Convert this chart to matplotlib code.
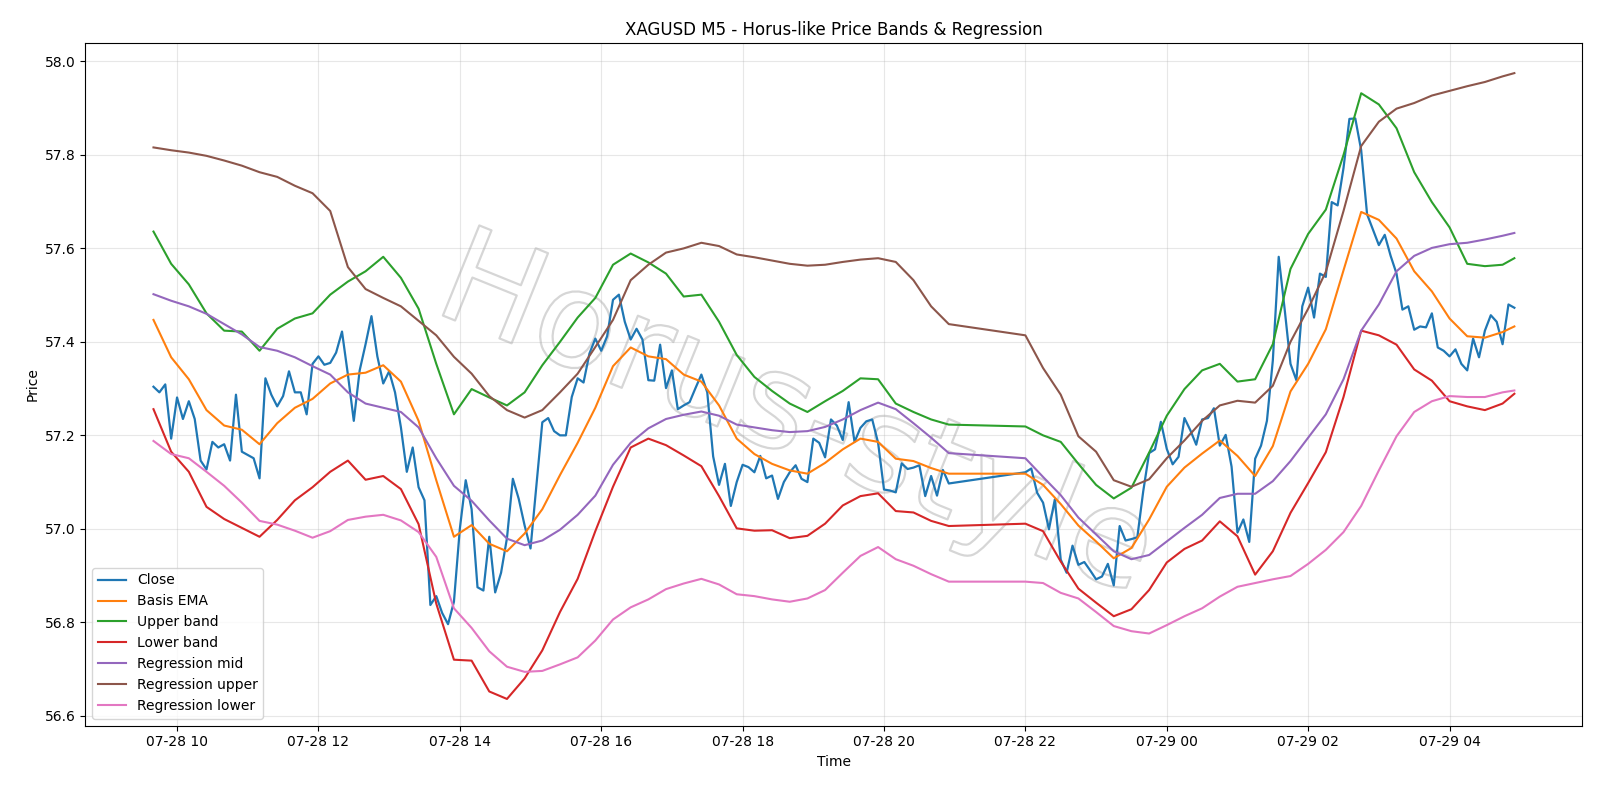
import numpy as np
import pandas as pd
import matplotlib
matplotlib.use("Agg")
import matplotlib.pyplot as plt
import matplotlib.dates as mdates
import matplotlib.patheffects as pe

# 5-minute bars, with the daily break between 20:55 and 22:00
seg1 = pd.date_range("2025-07-28 09:40", "2025-07-28 20:55", freq="5min")
seg2 = pd.date_range("2025-07-28 22:00", "2025-07-29 04:55", freq="5min")
times = seg1.append(seg2)

close = [
    57.304, 57.292, 57.309, 57.193, 57.281, 57.235, 57.273, 57.235, 57.146, 57.127,
    57.186, 57.174, 57.181, 57.146, 57.287, 57.165, 57.158, 57.151, 57.108, 57.322,
    57.287, 57.262, 57.284, 57.337, 57.292, 57.292, 57.245, 57.353, 57.369, 57.351,
    57.355, 57.377, 57.422, 57.330, 57.231, 57.339, 57.395, 57.455, 57.369, 57.311,
    57.337, 57.292, 57.217, 57.122, 57.174, 57.089, 57.061, 56.837, 56.856, 56.820,
    56.796, 56.844, 57.000, 57.104, 57.042, 56.875, 56.868, 56.983, 56.864, 56.906,
    56.980, 57.107, 57.064, 57.007, 56.958, 57.094, 57.228, 57.237, 57.209, 57.200,
    57.200, 57.282, 57.322, 57.313, 57.375, 57.407, 57.381, 57.412, 57.490, 57.501,
    57.443, 57.405, 57.428, 57.405, 57.318, 57.317, 57.394, 57.301, 57.339, 57.256,
    57.264, 57.271, 57.301, 57.330, 57.292, 57.155, 57.094, 57.139, 57.049, 57.100,
    57.137, 57.132, 57.121, 57.156, 57.108, 57.114, 57.064, 57.100, 57.121, 57.136,
    57.107, 57.100, 57.193, 57.184, 57.153, 57.234, 57.221, 57.190, 57.271, 57.186,
    57.216, 57.230, 57.234, 57.184, 57.084, 57.082, 57.078, 57.140, 57.128, 57.131,
    57.136, 57.070, 57.113, 57.071, 57.126, 57.097,
    # after the break
    57.121, 57.129, 57.077, 57.056, 56.999, 57.063, 56.934, 56.906, 56.964, 56.923,
    56.929, 56.911, 56.892, 56.898, 56.925, 56.879, 57.006, 56.975, 56.978, 56.982,
    57.080, 57.162, 57.170, 57.229, 57.171, 57.138, 57.154, 57.237, 57.211, 57.180,
    57.234, 57.237, 57.258, 57.178, 57.201, 57.133, 56.992, 57.020, 56.972, 57.150,
    57.178, 57.231, 57.360, 57.582, 57.471, 57.353, 57.318, 57.476, 57.516, 57.452,
    57.546, 57.539, 57.699, 57.692, 57.772, 57.877, 57.878, 57.810, 57.673, 57.640,
    57.607, 57.629, 57.584, 57.546, 57.469, 57.476, 57.426, 57.433, 57.431, 57.461,
    57.388, 57.381, 57.369, 57.384, 57.353, 57.339, 57.407, 57.367, 57.424, 57.457,
    57.443, 57.395, 57.480, 57.473,
]

# the smoother series are read every third bar (15 min) plus the last bar
idx = list(range(0, len(seg1), 3)) + [len(seg1) + i for i in range(0, len(seg2), 3)] + [len(times) - 1]
t_s = times[idx]

basis = [
    57.447, 57.367, 57.320, 57.254, 57.221, 57.212, 57.181, 57.226, 57.259, 57.278,
    57.311, 57.330, 57.334, 57.350, 57.315, 57.231, 57.104, 56.983, 57.008, 56.968,
    56.952, 56.990, 57.042, 57.115, 57.184, 57.259, 57.348, 57.388, 57.369, 57.363,
    57.330, 57.315, 57.264, 57.193, 57.160, 57.139, 57.125, 57.118, 57.141, 57.170,
    57.193, 57.186, 57.150, 57.145, 57.130, 57.118,
    57.118, 57.094, 57.053, 57.007, 56.973, 56.937, 56.959, 57.020, 57.090, 57.131,
    57.161, 57.189, 57.156, 57.113, 57.177, 57.294, 57.353, 57.427, 57.553, 57.678,
    57.661, 57.621, 57.551, 57.508, 57.450, 57.412, 57.409, 57.421, 57.433,
]
upper = [
    57.636, 57.567, 57.523, 57.461, 57.424, 57.422, 57.381, 57.428, 57.450, 57.461,
    57.501, 57.529, 57.551, 57.582, 57.537, 57.471, 57.353, 57.245, 57.299, 57.281,
    57.264, 57.292, 57.350, 57.400, 57.452, 57.494, 57.565, 57.589, 57.570, 57.546,
    57.497, 57.501, 57.443, 57.372, 57.325, 57.295, 57.268, 57.250, 57.273, 57.295,
    57.322, 57.320, 57.268, 57.250, 57.234, 57.223,
    57.219, 57.200, 57.186, 57.139, 57.094, 57.065, 57.088, 57.163, 57.242, 57.299,
    57.339, 57.353, 57.315, 57.320, 57.395, 57.556, 57.631, 57.683, 57.800, 57.932,
    57.908, 57.857, 57.763, 57.699, 57.645, 57.567, 57.562, 57.565, 57.579,
]
lower = [
    57.256, 57.165, 57.122, 57.047, 57.021, 57.002, 56.983, 57.019, 57.061, 57.089,
    57.122, 57.146, 57.105, 57.113, 57.085, 57.010, 56.840, 56.720, 56.718, 56.652,
    56.636, 56.680, 56.740, 56.822, 56.893, 56.995, 57.090, 57.174, 57.193, 57.179,
    57.157, 57.134, 57.070, 57.001, 56.996, 56.997, 56.980, 56.985, 57.011, 57.050,
    57.070, 57.076, 57.038, 57.035, 57.017, 57.006,
    57.011, 56.995, 56.930, 56.872, 56.842, 56.813, 56.828, 56.869, 56.928, 56.957,
    56.975, 57.016, 56.984, 56.902, 56.952, 57.034, 57.098, 57.164, 57.282, 57.424,
    57.414, 57.394, 57.341, 57.317, 57.273, 57.262, 57.254, 57.268, 57.289,
]
reg_mid = [
    57.502, 57.488, 57.476, 57.460, 57.438, 57.416, 57.389, 57.381, 57.367, 57.348,
    57.330, 57.292, 57.268, 57.259, 57.250, 57.217, 57.151, 57.092, 57.060, 57.018,
    56.979, 56.965, 56.975, 56.998, 57.030, 57.071, 57.137, 57.184, 57.215, 57.235,
    57.244, 57.251, 57.242, 57.223, 57.217, 57.211, 57.207, 57.209, 57.218, 57.234,
    57.254, 57.270, 57.256, 57.226, 57.195, 57.162,
    57.151, 57.111, 57.072, 57.024, 56.988, 56.952, 56.935, 56.944, 56.973, 57.002,
    57.030, 57.066, 57.075, 57.075, 57.102, 57.145, 57.195, 57.245, 57.320, 57.424,
    57.480, 57.551, 57.584, 57.601, 57.609, 57.612, 57.619, 57.627, 57.633,
]
reg_upper = [
    57.816, 57.810, 57.805, 57.798, 57.788, 57.777, 57.763, 57.753, 57.734, 57.718,
    57.680, 57.560, 57.513, 57.494, 57.476, 57.445, 57.414, 57.368, 57.332, 57.284,
    57.254, 57.238, 57.254, 57.292, 57.332, 57.389, 57.447, 57.532, 57.565, 57.591,
    57.600, 57.612, 57.605, 57.587, 57.581, 57.574, 57.567, 57.563, 57.565, 57.571,
    57.576, 57.579, 57.571, 57.532, 57.476, 57.438,
    57.414, 57.344, 57.287, 57.198, 57.165, 57.104, 57.090, 57.106, 57.151, 57.189,
    57.231, 57.264, 57.274, 57.270, 57.306, 57.400, 57.471, 57.550, 57.680, 57.819,
    57.871, 57.899, 57.911, 57.927, 57.937, 57.947, 57.956, 57.968, 57.975,
]
reg_lower = [
    57.188, 57.160, 57.151, 57.122, 57.092, 57.056, 57.017, 57.009, 56.996, 56.981,
    56.995, 57.019, 57.026, 57.030, 57.018, 56.993, 56.940, 56.830, 56.788, 56.738,
    56.705, 56.694, 56.696, 56.710, 56.725, 56.761, 56.806, 56.832, 56.849, 56.871,
    56.883, 56.893, 56.881, 56.860, 56.856, 56.849, 56.844, 56.851, 56.869, 56.906,
    56.942, 56.961, 56.935, 56.921, 56.903, 56.887,
    56.887, 56.884, 56.863, 56.851, 56.822, 56.792, 56.781, 56.776, 56.794, 56.813,
    56.830, 56.855, 56.876, 56.884, 56.892, 56.899, 56.925, 56.955, 56.993, 57.049,
    57.125, 57.198, 57.250, 57.273, 57.284, 57.282, 57.282, 57.292, 57.296,
]

watermark = "Horus-style"

fig, ax = plt.subplots(figsize=(16, 8), dpi=100)
fig.subplots_adjust(left=0.0534, right=0.989, top=0.946, bottom=0.093)

# hollow light-grey watermark behind the lines
ax.text(0.475, 0.45, watermark, transform=ax.transAxes, fontsize=96,
        color=(1, 1, 1, 0), rotation=-22, ha="center", va="center", zorder=0,
        path_effects=[pe.withStroke(linewidth=1.6, foreground=(0.6, 0.6, 0.6, 0.4))])

ax.plot(times, close, label="Close", linewidth=1.6)
ax.plot(t_s, basis, label="Basis EMA", linewidth=1.5)
ax.plot(t_s, upper, label="Upper band", linewidth=1.5)
ax.plot(t_s, lower, label="Lower band", linewidth=1.5)
ax.plot(t_s, reg_mid, label="Regression mid", linewidth=1.5)
ax.plot(t_s, reg_upper, label="Regression upper", linewidth=1.5)
ax.plot(t_s, reg_lower, label="Regression lower", linewidth=1.5)

ax.set_ylim(56.579, 58.039)
ax.xaxis.set_major_locator(mdates.HourLocator(byhour=range(0, 24, 2)))
ax.xaxis.set_major_formatter(mdates.DateFormatter("%m-%d %H"))
ax.grid(alpha=0.3)
ax.set_title("XAGUSD M5 - Horus-like Price Bands & Regression")
ax.set_xlabel("Time")
ax.set_ylabel("Price")
ax.legend(loc="lower left")

fig.savefig("out.png", dpi=100)
